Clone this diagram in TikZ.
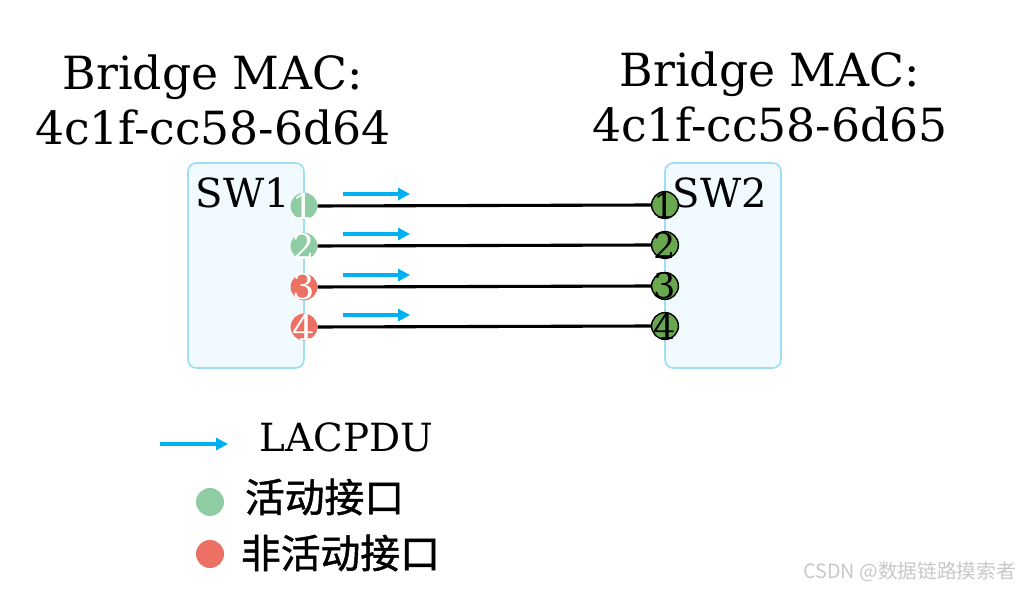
\documentclass[tikz,border=0pt]{standalone}
\usepackage{fontspec}
\setmainfont{DejaVu Serif}
\newfontfamily\cjk{Noto Sans CJK SC}
\newfontfamily\cjkheavy{Noto Sans CJK SC}[FakeBold=1.2]
\usetikzlibrary{arrows.meta}
\definecolor{boxfill}{RGB}{241,250,255}
\definecolor{boxline}{RGB}{160,222,245}
\definecolor{pdublue}{RGB}{0,176,240}
\definecolor{activegreen}{RGB}{143,204,163}
\definecolor{inactivered}{RGB}{236,112,99}
\definecolor{remotegreen}{RGB}{106,168,79}
\definecolor{markgray}{RGB}{200,200,200}

\begin{document}
\begin{tikzpicture}[
  x=0.025cm, y=-0.025cm,
  switchbox/.style={draw=boxline, fill=boxfill, line width=1.2pt, rounded corners=6pt,
    minimum width=2.9cm, minimum height=5.125cm, inner sep=0pt},
  port/.style={circle, inner sep=0pt, minimum size=0.67cm},
  localnum/.style={label={[font=\fontsize{25}{25}\selectfont, text=white]center:#1}},
  remotenum/.style={label={[font=\fontsize{25}{25}\selectfont, text=black]center:#1}},
  link/.style={line width=2.2pt, black},
  pdu/.style={line width=2.8pt, pdublue, -{Triangle[length=8.5pt,width=8.5pt]}},
  title/.style={font=\fontsize{32.5}{39}\selectfont, align=center},
]
\useasboundingbox (0,0) rectangle (1022,590);

% ---------- bridge MAC titles ----------
\node[title] (mac1) at (213,100) {Bridge MAC:\\4c1f-cc58-6d64};
\node[title] (mac2) at (770,97) {Bridge MAC:\\4c1f-cc58-6d65};

% ---------- switches ----------
\node[switchbox] (sw1) at (246,265.5) {};
\node[switchbox] (sw2) at (723,265.5) {};
\node[font=\fontsize{28.5}{28.5}\selectfont] (sw1name) at (243,193) {SW1};
\node[font=\fontsize{28.5}{28.5}\selectfont] (sw2name) at (720,193) {SW2};

% ---------- ports ----------
\def\ys{{206,246,287,327}}
\foreach \i in {1,...,4} {
  \pgfmathsetmacro{\yy}{\ys[\i-1]}
  \ifnum\i<3
    \node[port, fill=activegreen, localnum=\i] (l\i) at (304,\yy) {};
  \else
    \node[port, fill=inactivered, localnum=\i] (l\i) at (304,\yy) {};
  \fi
  \node[port, fill=remotegreen, draw=black, line width=1pt, remotenum=\i] (r\i) at (665,\yy-1) {};
  \draw[link] (l\i.east) -- (r\i.west);
  % LACPDU arrows above each link
  \draw[pdu] (343,\yy-12) -- (410,\yy-12);
}

% ---------- legend ----------
\coordinate (legstart) at (160,444);
\coordinate (legend) at (228,444);
\draw[pdu] (legstart) -- (legend);
\node[font=\fontsize{27.6}{27.6}\selectfont, anchor=west] (legpdu) at (255,437) {LACPDU};
\node[circle, fill=activegreen, minimum size=0.7cm, inner sep=0pt] (legact) at (210,502) {};
\node[anchor=west, font=\cjkheavy\fontsize{28.3}{28.3}\selectfont] (legacttext) at (240,497) {活动接口};
\node[circle, fill=inactivered, minimum size=0.7cm, inner sep=0pt] (leginact) at (210,554) {};
\node[anchor=west, font=\cjkheavy\fontsize{28.3}{28.3}\selectfont] (leginacttext) at (236,553) {非活动接口};

% ---------- watermark ----------
\node[anchor=east, text=markgray, font=\cjk\fontsize{14}{14}\selectfont] (mark) at (1021,572) {CSDN @数据链路摸索者};
\end{tikzpicture}
\end{document}
